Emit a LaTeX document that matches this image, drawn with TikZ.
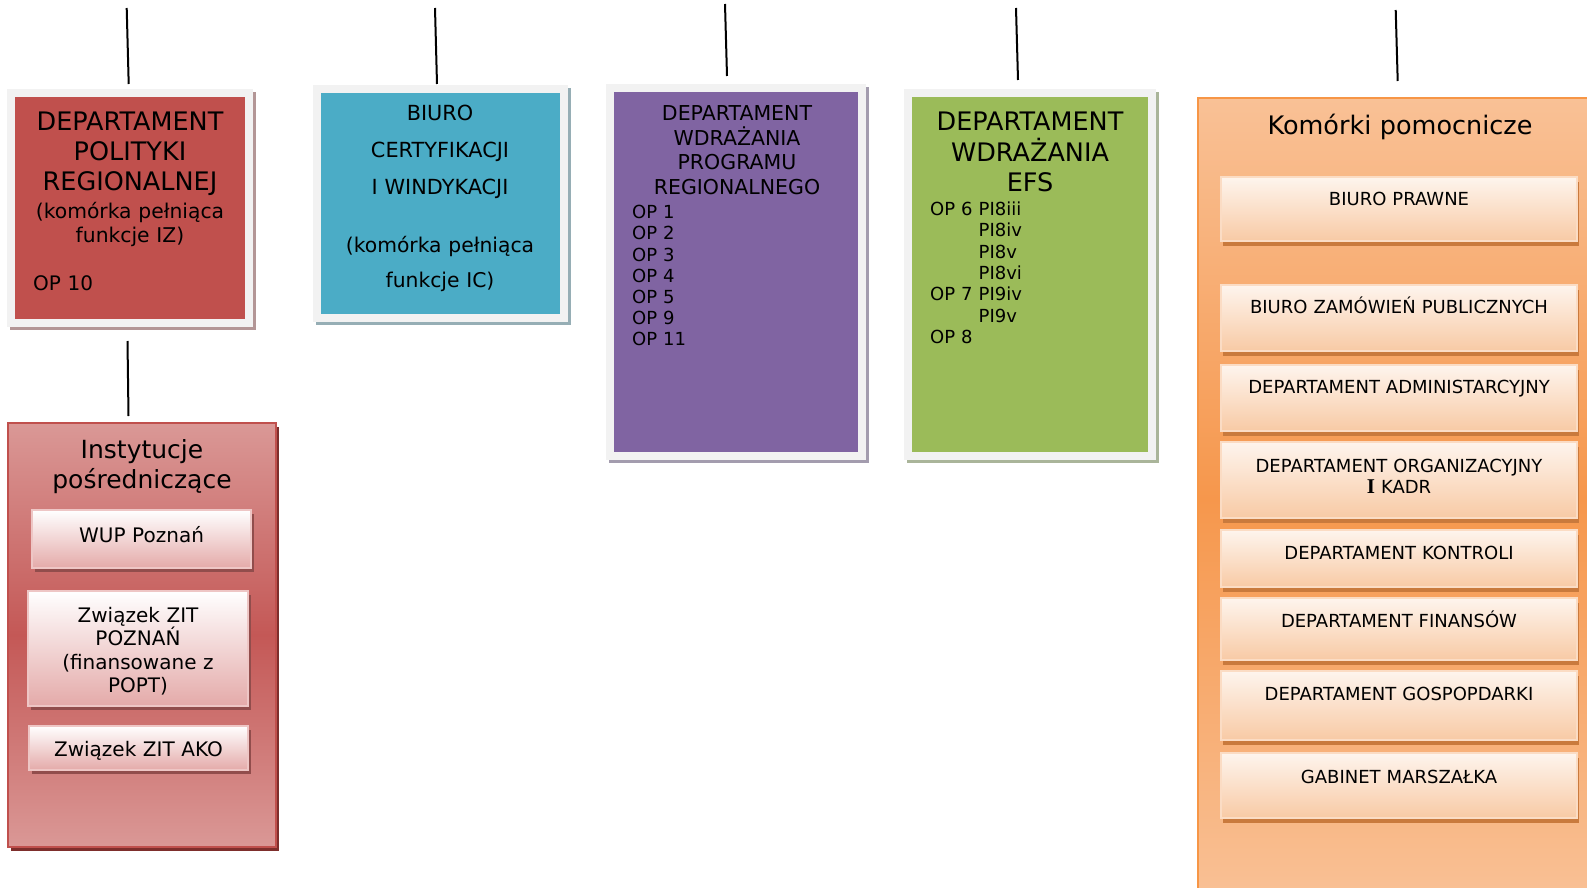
\documentclass[tikz,border=0pt]{standalone}
\usepackage{fontspec}
\setmainfont{DejaVu Sans}
\newfontfamily\serifI{Liberation Serif}
\usepackage{tikz}
\usetikzlibrary{positioning}
\usepackage{xcolor}
\definecolor{frm}{HTML}{F2F2F2}
\definecolor{r1}{HTML}{C0504D}
\definecolor{r2}{HTML}{B39696}
\definecolor{b1}{HTML}{4BACC6}
\definecolor{b2}{HTML}{96AEB5}
\definecolor{p1}{HTML}{8064A2}
\definecolor{p2}{HTML}{A39CAE}
\definecolor{g1}{HTML}{9BBB59}
\definecolor{g2}{HTML}{AAB59A}
\definecolor{pk1}{HTML}{DA9896}
\definecolor{pk2}{HTML}{C45856}
\definecolor{pk3}{HTML}{7E2E2C}
\definecolor{pk4}{HTML}{E4AAA9}
\definecolor{pk5}{HTML}{EEC6C5}
\definecolor{o1}{HTML}{F9C196}
\definecolor{o2}{HTML}{F6974C}
\definecolor{o3}{HTML}{F79646}
\definecolor{o4}{HTML}{F8CAA5}
\definecolor{o5}{HTML}{FBDCC4}
\definecolor{o6}{HTML}{C97A3D}
\newcommand\fs[2]{\fontsize{#1}{#2}\selectfont}
\tikzstyle{conn}=[line width=2pt]
\tikzstyle{dept}=[rectangle,draw=frm,line width=8pt,inner sep=0pt]
\tikzset{dshadow/.style={preaction={fill=#1,draw=#1,line width=8pt,transform canvas={shift={(3pt,-3pt)}}}},
  bshadow/.style={preaction={fill=#1,transform canvas={shift={(3pt,-4pt)}}}}}
\tikzstyle{boxtitle}=[inner sep=0pt,anchor=base,align=center,text width=250pt,font=\fs{25.5}{30}]
\tikzstyle{oplist}=[inner sep=0pt,anchor=base west,align=left,text width=180pt,font=\fs{18}{21.2}]
\tikzstyle{ipunit}=[rectangle,inner sep=0pt,anchor=base,align=center,font=\fs{20}{23.5},
  top color=white,bottom color=pk4,draw=pk5,line width=1.5pt,bshadow=pk3!85]
\tikzstyle{komunit}=[rectangle,inner sep=0pt,anchor=base,align=center,text width=356pt,font=\fs{18}{21},
  top color=white!70!o5,bottom color=o4,draw=o5,line width=1.5pt,
  preaction={fill=o6,transform canvas={shift={(2pt,-5pt)}}}]

\begin{document}
\begin{tikzpicture}[x=1pt,y=-1pt]
  \clip (0,0) rectangle (1587,888);
  % departamenty
  \node[dept,fill=r1,dshadow=r2,minimum width=238pt,minimum height=230pt] (dpr) at (130,208) {};
  \node[dept,fill=b1,dshadow=b2,minimum width=247pt,minimum height=229pt] (bci) at (440.5,203.5) {};
  \node[dept,fill=p1,dshadow=p2,minimum width=252pt,minimum height=368pt] (dwpr) at (736,272) {};
  \node[dept,fill=g1,dshadow=g2,minimum width=244pt,minimum height=363pt] (defs) at (1030,274.5) {};
  \node[boxtitle] (dprt) at (130,131) {DEPARTAMENT\\POLITYKI\\REGIONALNEJ};
  \node[boxtitle,font=\fs{20.3}{24}] (dprs) at (130,218) {(komórka pełniąca\\funkcje IZ)};
  \node[oplist,font=\fs{20}{24}] (dprop) at (33,290) {OP 10};
  \node[boxtitle,font=\fs{20.8}{37}] (bcit) at (440,121) {BIURO\\CERTYFIKACJI\\I WINDYKACJI};
  \node[boxtitle,font=\fs{20.3}{35}] (bcis) at (440,252) {(komórka pełniąca\\funkcje IC)};
  \node[boxtitle,font=\fs{20.5}{24.7}] (dwprt) at (737,120.5) {DEPARTAMENT\\WDRAŻANIA\\PROGRAMU\\REGIONALNEGO};
  \node[oplist] (dwprop) at (632,218.6) {OP 1\\OP 2\\OP 3\\OP 4\\OP 5\\OP 9\\OP 11};
  \node[boxtitle,font=\fs{25.5}{30.5}] (defst) at (1030,131) {DEPARTAMENT\\WDRAŻANIA\\EFS};
  \node[oplist,font=\fs{18}{21.3}] (defsop) at (930,215.6) {OP 6 PI8iii\\\phantom{OP 6 }PI8iv\\\phantom{OP 6 }PI8v\\
    \phantom{OP 6 }PI8vi\\OP 7 PI9iv\\\phantom{OP 7 }PI9v\\OP 8};
  % instytucje posredniczace
  \node[rectangle,draw=r1,line width=2pt,top color=pk1,bottom color=pk1,middle color=pk2,bshadow=pk3,
    minimum width=268pt,minimum height=424pt] (ip) at (142,635) {};
  \node[boxtitle,font=\fs{25}{30}] (ipt) at (142,458) {Instytucje\\pośredniczące};
  \node[ipunit,text width=219pt,text height=32pt,text depth=26pt] (wup) at (141.5,542) {WUP Poznań};
  \node[ipunit,text width=220pt,text height=31pt,text depth=84pt] (zitp) at (138,622) {Związek ZIT\\POZNAŃ\\(finansowane z\\POPT)};
  \node[ipunit,text width=219pt,text height=30pt,text depth=14pt] (zita) at (138.5,756) {Związek ZIT AKO};
  % komorki pomocnicze
  \node[rectangle,draw=o3,line width=2pt,top color=o1,bottom color=o1,middle color=o2,
    minimum width=402pt,minimum height=802pt] (kom) at (1399,499) {};
  \node[boxtitle,text width=320pt] (komt) at (1400,135) {Komórki pomocnicze};
  \node[komunit,text height=28pt,text depth=36pt] (bp) at (1399,205) {BIURO PRAWNE};
  \node[komunit,text height=28pt,text depth=38pt] (bzp) at (1399,313) {BIURO ZAMÓWIEŃ PUBLICZNYCH};
  \node[komunit,text height=28pt,text depth=38pt] (dadm) at (1399,393) {DEPARTAMENT ADMINISTARCYJNY};
  \node[komunit,text height=30pt,text depth=46pt] (dok) at (1399,472) {DEPARTAMENT ORGANIZACYJNY\\{\serifI\bfseries\fs{21}{21}I} KADR};
  \node[komunit,text height=29pt,text depth=28pt] (dk) at (1399,559) {DEPARTAMENT KONTROLI};
  \node[komunit,text height=29pt,text depth=33pt] (df) at (1399,627) {DEPARTAMENT FINANSÓW};
  \node[komunit,text height=29pt,text depth=40pt] (dg) at (1399,700) {DEPARTAMENT GOSPOPDARKI};
  \node[komunit,text height=30pt,text depth=35pt] (gm) at (1399,783) {GABINET MARSZAŁKA};
  % linie
  \coordinate (up-dpr) at (126.7,8);
  \coordinate (up-bci) at (435,8);
  \coordinate (up-dwpr) at (725,4);
  \coordinate (up-defs) at (1016,8);
  \coordinate (up-kom) at (1395.7,10);
  \draw[conn] (up-dpr) -- ([xshift=-1.3pt,yshift=5pt]dpr.north);
  \draw[conn] (up-bci) -- ([xshift=-3.5pt,yshift=1pt]bci.north);
  \draw[conn] (up-dwpr) -- ([xshift=-9pt,yshift=8pt]dwpr.north);
  \draw[conn] (up-defs) -- ([xshift=-12pt,yshift=9pt]defs.north);
  \draw[conn] (up-kom) -- ([xshift=-1.3pt,yshift=16pt]kom.north);
  \draw[conn] ([xshift=-2.5pt,yshift=-14pt]dpr.south) -- ([xshift=-13.5pt,yshift=6pt]ip.north);
\end{tikzpicture}
\end{document}
